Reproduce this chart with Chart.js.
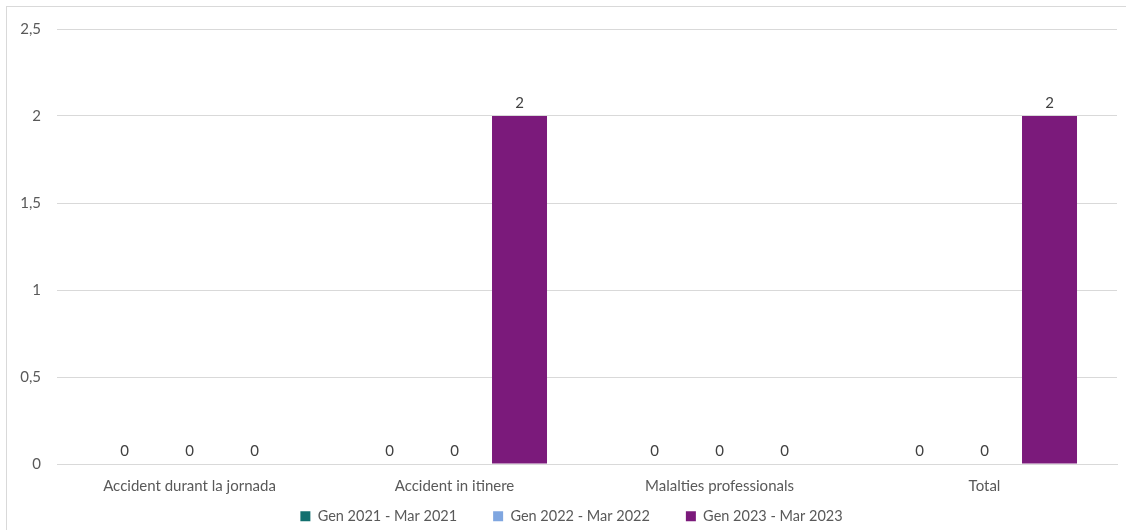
<!DOCTYPE html>
<html>
<head>
<meta charset="utf-8">
<script src="https://cdn.jsdelivr.net/npm/chart.js@4.4.0/dist/chart.umd.min.js"></script>
<style>
  body { margin: 0; background: #fff; }
  #wrap { position: relative; width: 1126px; height: 530px; }
  #frame { position: absolute; left: 6px; top: 6px; width: 1130px; height: 530px; border: 1px solid #d9d9d9; box-sizing: border-box; pointer-events: none; }
</style>
</head>
<body>
<div id="wrap">
  <canvas id="chart" width="1126" height="530"></canvas>
  <div id="frame"></div>
</div>
<script>
// categories and series
const categories = ['Accident durant la jornada', 'Accident in itinere', 'Malalties professionals', 'Total']
const series2021 = [0, 0, 0, 0]
const series2022 = [0, 0, 0, 0]
const series2023 = [0, 2, 0, 2]
const seriesNames = ['Gen 2021 - Mar 2021', 'Gen 2022 - Mar 2022', 'Gen 2023 - Mar 2023']
const seriesColors = ['#12706f', '#7fa6e0', '#7b1a7b']

const fontFam = "Lato, 'Open Sans', sans-serif"

// draws the value above each bar (no datalabels plugin available)
const valueLabels = {
    id: 'valueLabels',
    afterDatasetsDraw (chart) {
        const ctx = chart.ctx
        ctx.save()
        ctx.font = `15px ${fontFam}`
        ctx.fillStyle = '#404040'
        ctx.textAlign = 'center'
        ctx.textBaseline = 'bottom'
        chart.data.datasets.forEach((ds, i) => {
            chart.getDatasetMeta(i).data.forEach((bar, j) => {
                ctx.fillText(String(ds.data[j]).replace('.', ','), bar.x, bar.y - 5)
            })
        })
        ctx.restore()
    }
}

// legend padding is used both ways, so fix its box height and move it after layout
const legendFit = {
    id: 'legendFit',
    beforeInit (chart) {
        const fit = chart.legend.fit
        chart.legend.fit = function () {
            fit.call(this)
            this.height = 36
        }
    },
    afterLayout (chart) {
        const lg = chart.legend
        lg.top = 473
        lg.bottom = 533
        lg.height = 60
        lg.left += 13
        lg.right += 13
    }
}

const ctx = document.getElementById('chart').getContext('2d')
new Chart(ctx, {
    type: 'bar',
    data: {
        labels: categories,
        datasets: [series2021, series2022, series2023].map((d, i) => ({
            label: seriesNames[i],
            data: d,
            backgroundColor: seriesColors[i],
            categoryPercentage: 0.736,
            barPercentage: 0.846
        }))
    },
    options: {
        responsive: false,
        animation: false,
        layout: { padding: { top: 29, right: 9, left: 0, bottom: 0 } },
        plugins: {
            tooltip: { enabled: false },
            legend: {
                position: 'bottom',
                labels: {
                    boxWidth: 10,
                    boxHeight: 10,
                    padding: 36,
                    color: '#595959',
                    font: { size: 14.5, family: fontFam }
                }
            }
        },
        scales: {
            x: {
                afterFit: (s) => { s.height = 30 },
                grid: { display: false, drawTicks: false },
                border: { color: '#d9d9d9' },
                ticks: { color: '#595959', padding: 13, font: { size: 15, family: fontFam } }
            },
            y: {
                min: 0,
                max: 2.5,
                afterFit: (s) => { s.width = 57 },
                grid: { color: '#d9d9d9', drawTicks: false },
                border: { display: false },
                ticks: {
                    stepSize: 0.5,
                    padding: 16,
                    color: '#595959',
                    font: { size: 15, family: fontFam },
                    callback: (v) => String(v).replace('.', ',')
                }
            }
        }
    },
    plugins: [valueLabels, legendFit]
})
</script>
</body>
</html>
